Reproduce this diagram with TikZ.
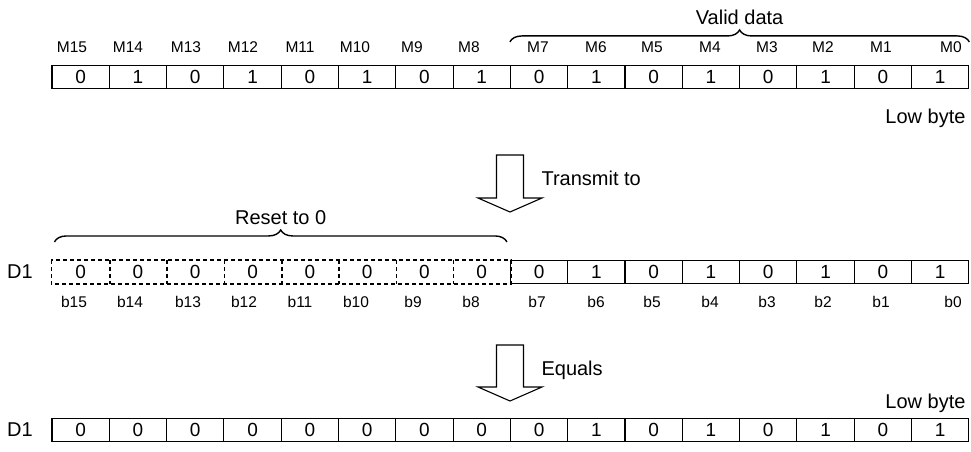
\documentclass[tikz,border=0pt]{standalone}
\usepackage{fontspec}
\setmainfont{Liberation Sans}
\usetikzlibrary{decorations.pathreplacing,positioning}

\begin{document}
\begin{tikzpicture}[
      x=1pt, y=-1pt,
      cell/.style={
          draw,
          line width=1.1pt,
          minimum width=57.3pt,
          minimum height=23pt,
          inner sep=0pt,
          font=\fontsize{19}{20}\selectfont
        },
      zerocell/.style={cell, draw=none},
      resetline/.style={line width=1.6pt, dash pattern=on 4pt off 3pt},
      bitlabel/.style={font=\fontsize{15.5}{17}\selectfont},
      note/.style={font=\fontsize{20}{22}\selectfont},
      curly/.style={decorate, decoration={brace, amplitude=12pt}, line width=1.4pt},
      hollow/.style={draw, line width=1.1pt, fill=white}
    ]
    \useasboundingbox (0,0) rectangle (971,452);

    % source bits M15..M0
    \foreach \v [count=\k from 0] in {0,1,0,1,0,1,0,1,0,1,0,1,0,1,0,1} {
        \pgfmathtruncatemacro\idx{15-\k}
        \node[cell] (m\idx) at (80.65+57.3*\k,77) {\v};
      }
    \foreach \idx/\lx in {15/72,14/128,13/186,12/243,11/300,10/355,9/412,8/469,
        7/538,6/596,5/652,4/710,3/767,2/823,1/881,0/951}
    \node[bitlabel] (lm\idx) at (\lx,47) {M\idx};

    \draw[curly] ([yshift=23pt]m7.north west) -- ([yshift=23pt]m0.north east)
    node[note, midway, above=13pt] (valid) {Valid data};
    \node[note, anchor=east] (low1) at (969,118) {Low byte};

    % first hollow arrow
    \draw[hollow] (496.5,155) -- ++(0,43) -- ++(-18.5,0) -- (510,212)
    -- (542,198) -- ++(-18.5,0) -- ++(0,-43) -- cycle;
    \node[note, anchor=west] (transmit) at (538,178) {Transmit to};

    % D1 after transmission
    \node[note] (d1a) at (20,272) {D1};
    \foreach \v [count=\k from 0] in {0,0,0,0,0,0,0,0} {
        \pgfmathtruncatemacro\idx{15-\k}
        \node[zerocell] (d\idx) at (80.65+57.3*\k,272) {\v};
      }
    \draw[resetline] (d15.north west) rectangle (d8.south east);
    \foreach \idx in {15,...,9}
    \draw[resetline] (d\idx.north east) -- (d\idx.south east);
    \foreach \v [count=\k from 8] in {0,1,0,1,0,1,0,1} {
        \pgfmathtruncatemacro\idx{15-\k}
        \node[cell] (d\idx) at (80.65+57.3*\k,272) {\v};
      }
    \foreach \idx/\lx in {15/74,14/130,13/188,12/244,11/300,10/356,9/413,8/471,
        7/537,6/596,5/652,4/710,3/767,2/823,1/881,0/953}
    \node[bitlabel] (lb\idx) at (\lx,302) {b\idx};

    \draw[curly] ([xshift=3pt,yshift=18pt]d15.north west) -- ([xshift=-4pt,yshift=18pt]d8.north east)
    node[note, midway, above=13pt] (reset) {Reset to 0};

    % second hollow arrow
    \draw[hollow] (496.5,345) -- ++(0,42) -- ++(-18.5,0) -- (510,401)
    -- (542,387) -- ++(-18.5,0) -- ++(0,-42) -- cycle;
    \node[note, anchor=west] (equals) at (538,370) {Equals};
    \node[note, anchor=east] (low2) at (969,403) {Low byte};

    % D1 result
    \node[note] (d1b) at (20,430) {D1};
    \foreach \v [count=\k from 0] in {0,0,0,0,0,0,0,0,0,1,0,1,0,1,0,1} {
        \pgfmathtruncatemacro\idx{15-\k}
        \node[cell] (r\idx) at (80.65+57.3*\k,430) {\v};
      }
  \end{tikzpicture}
\end{document}
